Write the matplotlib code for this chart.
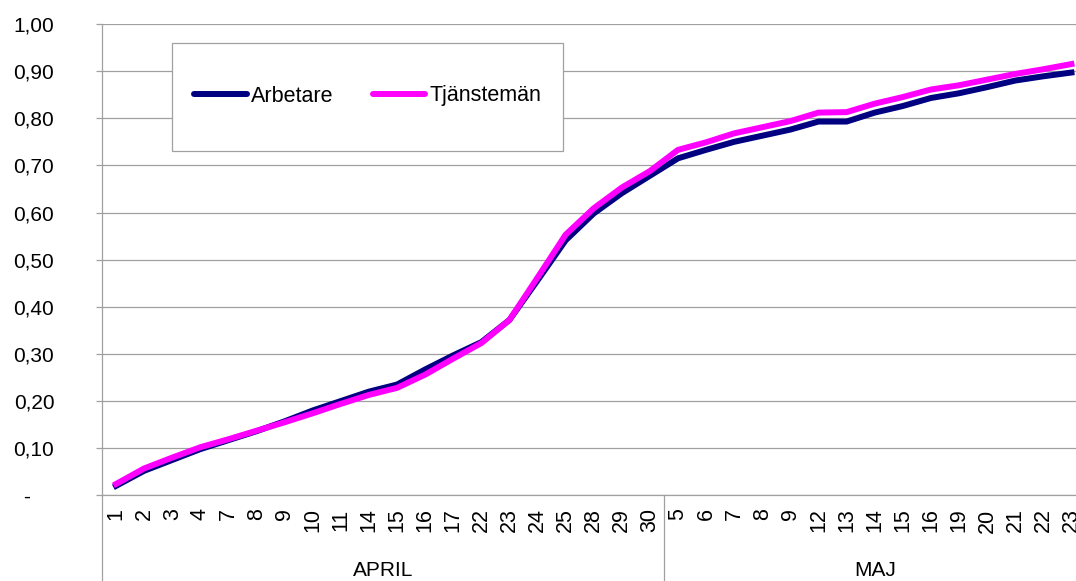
import numpy as np
import matplotlib.pyplot as plt
from matplotlib.patches import Rectangle
from matplotlib.transforms import blended_transform_factory

plt.rcParams['font.family'] = ['Liberation Sans', 'DejaVu Sans']

# Reporting days per month
days_april = [1, 2, 3, 4, 7, 8, 9, 10, 11, 14, 15, 16, 17, 22, 23, 24, 25, 28, 29, 30]
days_maj = [5, 6, 7, 8, 9, 12, 13, 14, 15, 16, 19, 20, 21, 22, 23]
months = ['APRIL', 'MAJ']

# Cumulative share per group
arbetare = [0.020, 0.052, 0.075, 0.098, 0.117, 0.136, 0.157, 0.180, 0.200, 0.220,
            0.235, 0.267, 0.297, 0.325, 0.372, 0.456, 0.541, 0.598, 0.641, 0.678,
            0.715, 0.733, 0.750, 0.763, 0.776, 0.793, 0.793, 0.812, 0.826, 0.843,
            0.853, 0.866, 0.880, 0.889, 0.897]
tjanstemen = [0.024, 0.057, 0.080, 0.102, 0.119, 0.137, 0.155, 0.174, 0.194, 0.213,
              0.228, 0.256, 0.290, 0.323, 0.372, 0.462, 0.553, 0.609, 0.653, 0.688,
              0.733, 0.749, 0.768, 0.781, 0.794, 0.812, 0.813, 0.831, 0.845, 0.861,
              0.870, 0.882, 0.894, 0.904, 0.915]

yticks = [1.0, 0.9, 0.8, 0.7, 0.6, 0.5, 0.4, 0.3, 0.2, 0.1, 0.0]
ytick_labels = ['1,00', '0,90', '0,80', '0,70', '0,60', '0,50', '0,40',
                '0,30', '0,20', '0,10', '-    ']

days = days_april + days_maj
x = np.arange(len(days))
grid_col = '#a0a0a0'
fs = 15

fig = plt.figure(figsize=(10.76, 5.81), dpi=100)
ax = fig.add_axes([0.0948, 0.1475, 0.914, 0.8112])

ax.plot(x, arbetare, color='#000080', lw=4.3, label='Arbetare', zorder=3)
ax.plot(x, tjanstemen, color='#ff00ff', lw=4.3, label='Tjänstemän', zorder=4)

ax.set_xlim(-0.5, len(days) - 0.5)
ax.set_ylim(0, 1.0)
ax.set_yticks(yticks)
ax.set_yticklabels(ytick_labels)
ax.yaxis.grid(True, color=grid_col, lw=0.9)
ax.set_axisbelow(True)
ax.tick_params(axis='y', length=4.3, width=0.9, color=grid_col, pad=30, labelsize=fs)

ax.set_xticks(x)
ax.set_xticklabels([str(d) for d in days], rotation=90)
ax.tick_params(axis='x', length=0, pad=9.5, labelsize=15.5)

for side in ['top', 'right']:
    ax.spines[side].set_visible(False)
for side in ['left', 'bottom']:
    ax.spines[side].set_color(grid_col)
    ax.spines[side].set_linewidth(0.9)

# month groups below the day labels
trans = blended_transform_factory(ax.transData, ax.transAxes)
bounds = [-0.5, len(days_april) - 0.5, len(days) - 0.5]
for b in bounds:
    ax.plot([b, b], [0, -0.2], color=grid_col, lw=0.9, transform=trans, clip_on=False)
for i, m in enumerate(months):
    ax.text((bounds[i] + bounds[i + 1]) / 2, -0.1586, m, transform=trans,
            ha='center', va='center', fontsize=fs)

# legend box
fig.patches.append(Rectangle((172 / 1076, 1 - 151 / 581), 391 / 1076, 108 / 581,
                             transform=fig.transFigure, facecolor='white',
                             edgecolor=grid_col, lw=0.9, zorder=2))
leg = fig.legend(loc='center', bbox_to_anchor=(368 / 1076, 1 - 96 / 581),
                 ncol=2, frameon=False, fontsize=15.5, handlelength=2.45,
                 handletextpad=0.2, columnspacing=1.8)
leg.set_zorder(3)
for h in leg.get_lines():
    h.set_solid_capstyle('round')

fig.savefig('out.png', dpi=100)
